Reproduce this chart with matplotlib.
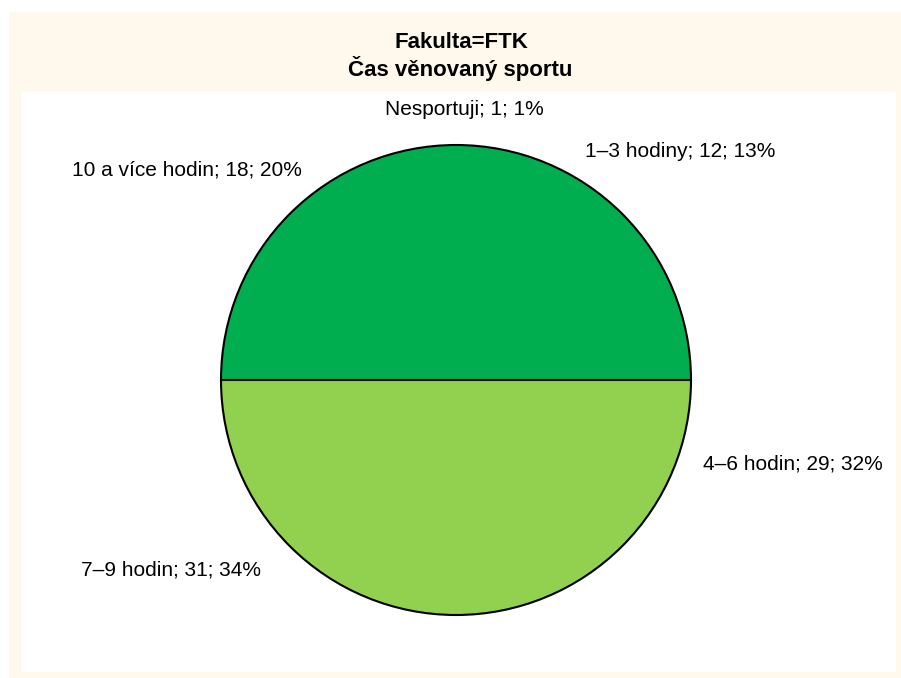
import matplotlib
matplotlib.use("Agg")
import matplotlib.pyplot as plt
from matplotlib.patches import Rectangle, Wedge

# data
kategorie = ["Nesportuji", "1–3 hodiny", "4–6 hodin", "7–9 hodin", "10 a více hodin"]
pocty = [1, 12, 29, 31, 18]
# label anchor in pixels (x centre, baseline y from top)
label_pos = [(464, 115), (680, 157), (793, 469), (171, 575), (187, 175)]

W, H = 901, 678
fig = plt.figure(figsize=(W / 100, H / 100), dpi=100)
fig.patch.set_facecolor("white")
ax = fig.add_axes([0, 0, 1, 1])

center = (456, H - 380)
radius = 235
wedges, _ = ax.pie(pocty, startangle=90, counterclock=False, center=center,
                   radius=radius, frame=True,
                   wedgeprops=dict(facecolor="none", edgecolor="none"))
ax.set_xlim(0, W)
ax.set_ylim(0, H)
ax.set_aspect("equal")
ax.axis("off")

# frame: cream outer, white plot area
ax.add_patch(Rectangle((9, 0), W - 9, H - 12, facecolor="#FEF9EC", edgecolor="none", zorder=0))
ax.add_patch(Rectangle((21, H - 672), 896 - 21, 672 - 92, facecolor="white", edgecolor="none", zorder=0))

fig.text(461 / W, 1 - 48 / H, "Fakulta=FTK", ha="center", va="baseline",
         fontsize=16, fontweight="bold", family="Liberation Sans")
fig.text(460 / W, 1 - 76 / H, "Čas věnovaný sportu", ha="center", va="baseline",
         fontsize=16, fontweight="bold", family="Liberation Sans")

# the source chart renders the disc as two halves
c = wedges[0].center
r = wedges[0].r
ax.add_patch(Wedge(c, r, 0, 180, facecolor="#00AE4F", edgecolor="black", linewidth=1.5, zorder=2))
ax.add_patch(Wedge(c, r, 180, 360, facecolor="#92D050", edgecolor="black", linewidth=1.5, zorder=2))

total = sum(pocty)
for name, v, (px, py) in zip(kategorie, pocty, label_pos):
    pct = round(v / total * 100)
    ax.text(px, H - py, f"{name}; {v}; {pct}%", ha="center", va="baseline",
            fontsize=15, family="Liberation Sans", zorder=3)

fig.savefig("out.png", dpi=100)
